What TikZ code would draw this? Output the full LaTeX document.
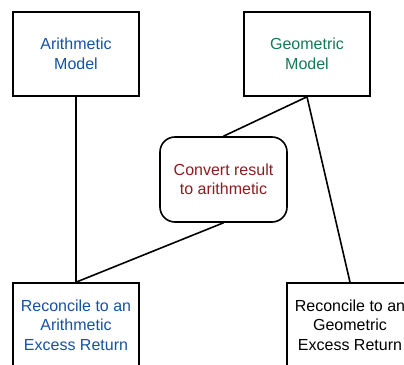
\documentclass[tikz,border=0pt]{standalone}
\usepackage{fontspec}
\setmainfont{Liberation Sans}

\definecolor{arithblue}{RGB}{22,82,160}
\definecolor{geogreen}{RGB}{20,122,86}
\definecolor{convred}{RGB}{140,28,32}

\begin{document}
\begin{tikzpicture}[x=1pt, y=1pt, line width=1.6pt,
  box/.style={draw, minimum width=126pt, minimum height=84pt, inner sep=0pt,
    align=center, font=\fontsize{16}{19.5}\selectfont},
  roundbox/.style={box, rounded corners=15pt, minimum width=127pt, minimum height=85pt}]

  % Begrenzing
  \useasboundingbox (0,0) rectangle (404,364);
  \clip (0,0) rectangle (404,364);

  % Modellen
  \node[box, text=arithblue] (arith) at (76,310)  {Arithmetic\\Model};
  \node[box, text=geogreen]  (geo)   at (307,310) {Geometric\\Model};

  % Omzetting
  \node[roundbox, text=convred] (convert) at (223.5,184.5) {Convert result\\to arithmetic};

  % Aansluitingen
  \node[box, text=arithblue] (recarith) at (76,39)  {Reconcile to an\\Arithmetic\\Excess Return};
  \node[box]                 (recgeo)   at (350,39) {Reconcile to an\\Geometric\\Excess Return};

  % Verbindingen
  \draw (arith.south) -- (recarith.north);
  \draw (geo.south) -- (convert.north);
  \draw (convert.south) -- (recarith.north);
  \draw (geo.south) -- (recgeo.north);

\end{tikzpicture}
\end{document}
